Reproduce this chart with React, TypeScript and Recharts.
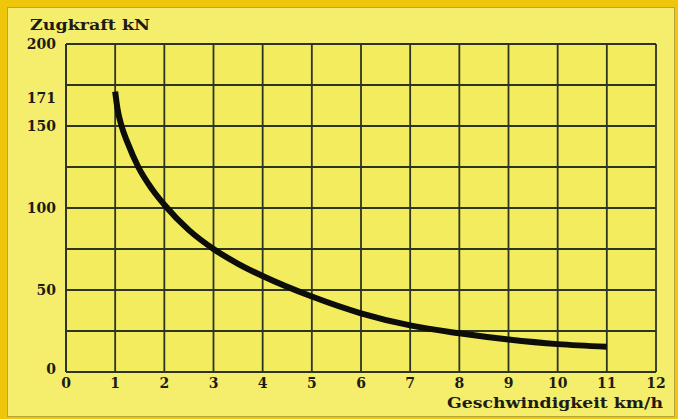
import React from 'react';
import { LineChart, Line, XAxis, YAxis, CartesianGrid } from 'recharts';

const speeds = [1, 1.05, 1.13, 1.25, 1.47, 1.75, 2, 2.5, 3, 3.5, 4, 5, 6, 7, 8, 9, 10, 11];
const forces = [171, 160, 150, 140, 125, 111.5, 102, 86.5, 75, 66, 58.5, 46, 35.8, 28.4, 23.6, 19.8, 17, 15.4];
const xTicks = [0, 1, 2, 3, 4, 5, 6, 7, 8, 9, 10, 11, 12];
const yTicks = [0, 50, 100, 150, 171, 200];
const yGrid = [0, 25, 50, 75, 100, 125, 150, 175, 200];

const data = speeds.map((v, i) => ({ v, f: forces[i] }));

const FONT = '"DejaVu Serif", serif';
const INK = '#1c1c14';
const GRID = '#2c3422';

const YTick = (props: any) => {
  const { x, y, payload } = props;
  const dy = payload.value === 171 ? 6 : payload.value === 0 ? -3 : payload.value === 200 ? 0 : 0;
  return (
    <text x={x - 2} y={y + dy} dy={5} textAnchor="end" fontFamily={FONT} fontWeight="bold" fontSize={14} fill={INK}>
      {payload.value}
    </text>
  );
};

const XTick = (props: any) => {
  const { x, y, payload } = props;
  return (
    <text x={x} y={y} dy={8} textAnchor="middle" fontFamily={FONT} fontWeight="bold" fontSize={14} fill={INK}>
      {payload.value}
    </text>
  );
};

export default function App() {
  return (
    <div style={{ position: 'absolute', left: 0, top: 0, width: 678, height: 419, background: '#efc60a', overflow: 'hidden' }}>
      <div style={{ position: 'absolute', left: 7, top: 7, right: 3, bottom: 2, background: '#f4ee6c', boxShadow: 'inset 0 0 0 1px #b8a53a' }} />
      <div style={{ position: 'absolute', left: 0, top: 0 }}>
        <LineChart width={678} height={419} data={data} margin={{ top: 44, right: 22, bottom: 17, left: 0 }}>
          <CartesianGrid
            stroke={GRID}
            strokeWidth={1.8}
            horizontalValues={yGrid}
            verticalValues={xTicks}
            fill="#f3ec5e"
            fillOpacity={1}
          />
          <XAxis
            type="number"
            dataKey="v"
            domain={[0, 12]}
            ticks={xTicks}
            interval={0}
            height={30}
            axisLine={{ stroke: GRID, strokeWidth: 2 }}
            tickLine={false}
            tick={<XTick />}
          />
          <YAxis
            type="number"
            domain={[0, 200]}
            ticks={yTicks}
            interval={0}
            width={66}
            axisLine={{ stroke: GRID, strokeWidth: 2 }}
            tickLine={false}
            tick={<YTick />}
          />
          <Line
            type="monotone"
            dataKey="f"
            stroke="#0d0d0a"
            strokeWidth={6}
            dot={false}
            isAnimationActive={false}
            strokeLinecap="butt"
          />
          <text x={30} y={30} fontFamily={FONT} fontWeight="bold" fontSize={14} fill={INK} textLength={120} lengthAdjust="spacingAndGlyphs">
            Zugkraft kN
          </text>
          <text x={447} y={408} fontFamily={FONT} fontWeight="bold" fontSize={15} fill={INK} textLength={216} lengthAdjust="spacingAndGlyphs">
            Geschwindigkeit km/h
          </text>
        </LineChart>
      </div>
    </div>
  );
}
